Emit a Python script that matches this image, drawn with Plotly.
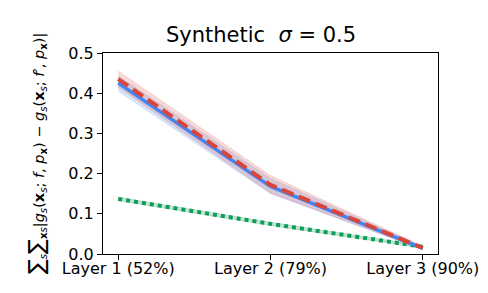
import plotly.graph_objects as go

layers = ["Layer 1 (52%)", "Layer 2 (79%)", "Layer 3 (90%)"]
xpos = [0, 1, 2]

blue_mean = [0.425, 0.168, 0.014]
blue_lo = [0.405, 0.150, 0.011]
blue_hi = [0.443, 0.188, 0.018]

red_mean = [0.435, 0.172, 0.015]
red_lo = [0.415, 0.152, 0.011]
red_hi = [0.455, 0.195, 0.019]

green_mean = [0.137, 0.075, 0.018]
green_lo = [0.133, 0.071, 0.015]
green_hi = [0.141, 0.079, 0.021]

BLUE = "#4285F4"
RED = "#DB4437"
GREEN = "#0F9D58"

fig = go.Figure()

def band(lo, hi, color):
    fig.add_trace(go.Scatter(x=xpos, y=hi, mode="lines", line=dict(width=0.8, color=color),
                             showlegend=False, hoverinfo="skip"))
    fig.add_trace(go.Scatter(x=xpos, y=lo, mode="lines", line=dict(width=0.8, color=color),
                             fill="tonexty", fillcolor=color, showlegend=False, hoverinfo="skip"))

band(green_lo, green_hi, "rgba(15,157,88,0.25)")
band(blue_lo, blue_hi, "rgba(66,133,244,0.2)")
band(red_lo, red_hi, "rgba(219,68,55,0.2)")

fig.add_trace(go.Scatter(x=xpos, y=green_mean, mode="lines",
                         line=dict(color=GREEN, width=4, dash="4px,4px"), showlegend=False))
fig.add_trace(go.Scatter(x=xpos, y=blue_mean, mode="lines",
                         line=dict(color=BLUE, width=3.5), showlegend=False))
fig.add_trace(go.Scatter(x=xpos, y=red_mean, mode="lines",
                         line=dict(color=RED, width=4, dash="12px,6px"), showlegend=False))

font = "DejaVu Sans"
fig.update_layout(
    width=488, height=293,
    margin=dict(l=95, r=58, t=45, b=47),
    paper_bgcolor="white", plot_bgcolor="white",
    font=dict(family=font, size=16, color="black"),
    title=dict(text="Synthetic  <i>σ</i> = 0.5", x=253 / 488, xanchor="center",
               y=1 - 27 / 293, yanchor="middle", font=dict(size=21, family=font)),
    xaxis=dict(range=[-0.1, 2.1], tickvals=xpos, ticktext=layers, showgrid=False, zeroline=False,
               showline=True, linecolor="black", linewidth=1, mirror=True,
               ticks="outside", ticklen=5, tickcolor="black", tickfont=dict(size=16),
               ticklabelstandoff=-5),
    yaxis=dict(range=[0, 0.5], tickvals=[0, 0.1, 0.2, 0.3, 0.4, 0.5],
               ticktext=["0.0", "0.1", "0.2", "0.3", "0.4", "0.5"], showgrid=False, zeroline=False,
               showline=True, linecolor="black", linewidth=1, mirror=True,
               ticks="outside", ticklen=5, tickcolor="black", tickfont=dict(size=16)),
)

big = '<span style="font-size:22px">∑</span>'
ylabel = (big + "<sub><i>s</i></sub>" + big + "<sub><b>x</b><i>s</i></sub>"
          "|<i>g<sub>s</sub></i>(<b>x</b><sub><i>s</i></sub>; <i>f</i>, <i>p</i><sub><b>x</b></sub>)"
          " − <i>g<sub>s</sub></i>(<b>x</b><sub><i>s</i></sub>; <i>f</i>′, <i>p</i><sub><b>x</b></sub>)|")
fig.add_annotation(text=ylabel, textangle=-90, xref="paper", yref="paper",
                   x=(28 - 95) / 335, y=(246 - 146) / 201,
                   xanchor="center", yanchor="middle", showarrow=False,
                   font=dict(size=14.5, family=font))

fig.write_html("out.html")
